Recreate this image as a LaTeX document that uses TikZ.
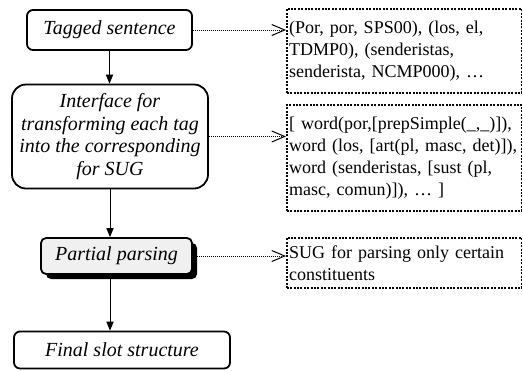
\documentclass[tikz,border=0pt]{standalone}
\usepackage{fontspec}
\setmainfont{Liberation Serif}
\usetikzlibrary{arrows.meta,shadows}

\begin{document}
\begin{tikzpicture}[x=0.5pt, y=-0.5pt,
    stepbox/.style={draw, line width=0.9pt, align=center, inner sep=0pt,
        font=\fontsize{10}{11.25}\selectfont\itshape},
    notebox/.style={draw, line width=0.8pt, dash pattern=on 1pt off 0.7pt,
        anchor=north west, align=left, inner sep=1.2pt, text width=115pt,
        font=\fontsize{9}{11}\selectfont},
    flow/.style={line width=0.5pt, -{Triangle[length=4.5pt, width=3.6pt]}},
    link/.style={line width=0.45pt, dash pattern=on 0.5pt off 0.5pt,
        -{Straight Barb[length=6.5pt, width=5.5pt, line width=0.5pt]}}]
    \useasboundingbox (0, 0) rectangle (523, 370);

    \node [stepbox, rounded corners=3pt, minimum width=82.5pt, minimum height=20pt]
        (tagged) at (109.5, 30) {Tagged sentence};
    \node [stepbox, rounded corners=7pt, minimum width=98pt, minimum height=52pt]
        (iface) at (110, 136.5) {Interface for\\ transforming each tag\\ into the corresponding\\ for SUG};
    \node [stepbox, rounded corners=2.5pt, minimum width=75.5pt, minimum height=18pt,
        fill=black!6, drop shadow={shadow xshift=2.5pt, shadow yshift=-2.5pt, opacity=1, fill=black}]
        (partial) at (116.5, 256) {Partial parsing};
    \node [stepbox, rounded corners=3pt, minimum width=108pt, minimum height=18.5pt]
        (final) at (122, 350) {Final slot structure};

    \node [notebox, minimum height=42pt] (tags) at (286, 8)
        {(Por, por, SPS00), (los, el,\\ TDMP0), (senderistas,\\ senderista, NCMP000), …};
    \node [notebox, minimum height=53pt] (words) at (286, 104)
        {[ word(por,[prepSimple(\_,\_)]),\\ word (los, [art(pl, masc, det)]),\\ word (senderistas, [sust (pl,\\ masc, comun)]), … ]};
    \node [notebox, minimum height=25pt] (sug) at (286, 237)
        {SUG for parsing only certain\\ constituents};

    \draw [flow] (tagged.south) -- (tagged.south |- iface.north);
    \draw [flow] (iface.south) -- (iface.south |- partial.north);
    \draw [flow] (iface.south |- partial.south) -- (iface.south |- final.north);

    \draw [link] (tagged) -- (tagged -| tags.west);
    \draw [link] (iface) -- (iface -| words.west);
    \draw [link] (partial) -- (partial -| sug.west);
\end{tikzpicture}
\end{document}
